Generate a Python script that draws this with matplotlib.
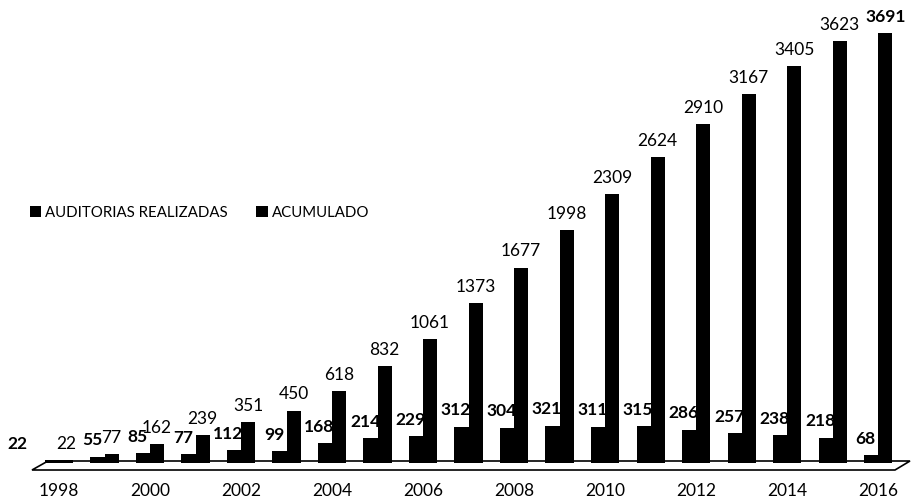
# AUDITORIAS - REALIZADAS Y ACUMULADO

import numpy as np
import matplotlib.pyplot as plt
from matplotlib.patches import Polygon

years = list(range(1998, 2017))
realizadas = [22, 55, 85, 77, 112, 99, 168, 214, 229, 312, 304, 321, 311, 315, 286, 257, 238, 218, 68]
acumulado = [22, 77, 162, 239, 351, 450, 618, 832, 1061, 1373, 1677, 1998, 2309, 2624, 2910, 3167, 3405, 3623, 3691]
tick_years = years[::2]

plt.rcParams['font.family'] = ['Lato', 'DejaVu Sans']

fig = plt.figure(figsize=(9.13, 5.0), dpi=100)
ax = fig.add_axes([20 / 913, 30 / 500, 880 / 913, 460 / 500])

x = np.arange(len(years))
w = 0.31
ax.bar(x - w / 2, realizadas, w, color='black', label='AUDITORIAS REALIZADAS', zorder=3)
ax.bar(x + w / 2, acumulado, w, color='black', label='ACUMULADO', zorder=3)

for i, (xi, v) in enumerate(zip(x, realizadas)):
	dx = -25 if i == 0 else -4
	ax.annotate(str(v), (xi - w / 2, v), xytext=(dx, 6), textcoords='offset points',
				ha='center', va='bottom', fontsize=12.5, fontweight='bold', zorder=4)
for i, (xi, v) in enumerate(zip(x, acumulado)):
	ax.annotate(str(v), (xi + w / 2, v), xytext=(0, 6), textcoords='offset points',
				ha='center', va='bottom', fontsize=12.5,
				fontweight='bold' if i == len(x) - 1 else 'normal', zorder=4)

# floor of the old 3D chart
floor = Polygon([(12 / 880, 0.0), (875 / 880, 0.0), (890 / 880, 9 / 460), (28 / 880, 9 / 460)],
				closed=True, transform=ax.transAxes, facecolor='white', edgecolor='black',
				linewidth=1.2, zorder=2, clip_on=False)
ax.add_patch(floor)

ax.set_xlim(-0.857, 18.48)
ax.set_ylim(-60, 3888)
ax.set_xticks([years.index(y) for y in tick_years])
ax.set_xticklabels([str(y) for y in tick_years], fontsize=12.5)
ax.tick_params(axis='x', length=0, pad=9)
ax.set_yticks([])
for s in ax.spines.values():
	s.set_visible(False)

fig.legend(loc='center left', bbox_to_anchor=(16 / 913, 1 - 213 / 500), ncol=2,
		   frameon=False, fontsize=10.8, handlelength=0.75, handleheight=0.75,
		   handletextpad=0.3, columnspacing=1.9)

fig.savefig('out.png', dpi=100)
